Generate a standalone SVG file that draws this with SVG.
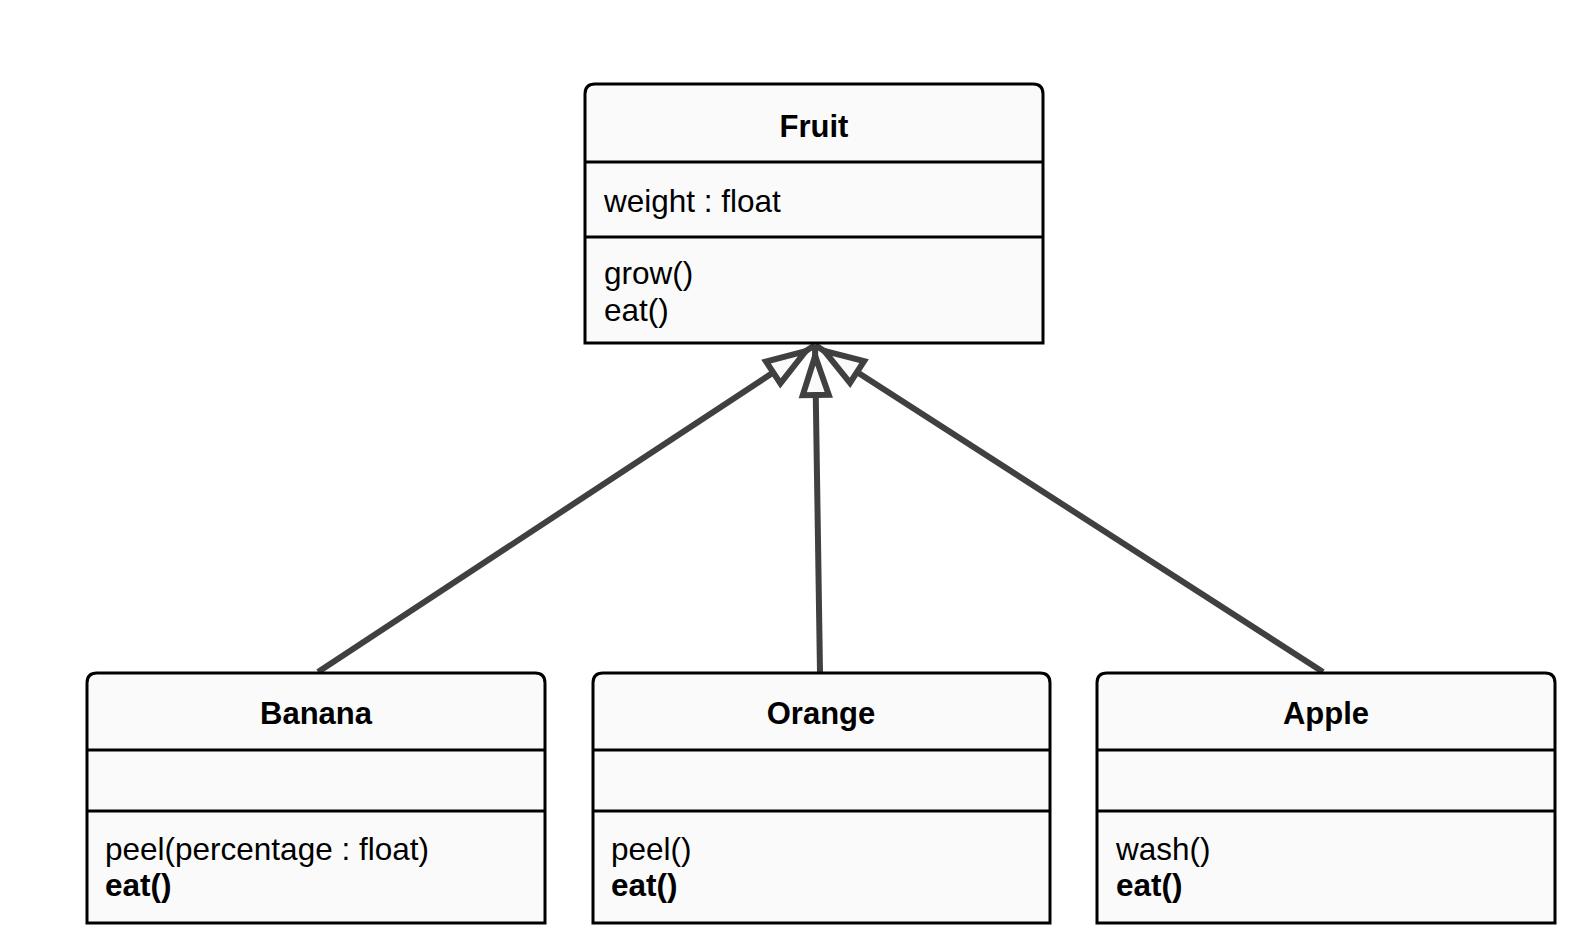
<svg xmlns="http://www.w3.org/2000/svg" width="1592" height="940" viewBox="0 0 1592 940">
<style>
.box{fill:#fafafa;stroke:#000;stroke-width:3}
.div{stroke:#000;stroke-width:3}
.t{font-family:"Liberation Sans",Arial,sans-serif;font-size:31.5px;fill:#000}
.b{font-weight:bold}
.title{font-family:"Liberation Sans",Arial,sans-serif;font-size:31px;font-weight:bold;text-anchor:middle;fill:#000}
.edge{stroke:#404040;stroke-width:6;fill:none}
</style>
<defs>
<marker id="gen" markerUnits="userSpaceOnUse" markerWidth="80" markerHeight="60" viewBox="-60 -30 80 60" refX="0" refY="0" orient="auto" overflow="visible">
<path d="M-11,0 L-50,-13 L-50,13 Z" fill="#fafafa" stroke="#404040" stroke-width="6" stroke-linejoin="miter"/>
</marker>
</defs>
<rect width="1592" height="940" fill="#ffffff"/>
<g id="connectors">
<line class="edge" x1="318" y1="672" x2="815" y2="345" marker-end="url(#gen)"/>
<line class="edge" x1="820" y1="672" x2="815" y2="345" marker-end="url(#gen)"/>
<line class="edge" x1="1323" y1="672" x2="815" y2="345" marker-end="url(#gen)"/>
</g>
<g id="fruit">
<path class="box" d="M585,343 L585,94 Q585,84 595,84 L1033,84 Q1043,84 1043,94 L1043,343 Z"/>
<line class="div" x1="585" y1="162" x2="1043" y2="162"/>
<line class="div" x1="585" y1="237" x2="1043" y2="237"/>
<text class="title" x="814" y="137">Fruit</text>
<text class="t" x="604" y="212">weight : float</text>
<text class="t" x="604" y="284">grow()</text>
<text class="t" x="604" y="321">eat()</text>
</g>
<g id="banana">
<path class="box" d="M87,923 L87,683 Q87,673 97,673 L535,673 Q545,673 545,683 L545,923 Z"/>
<line class="div" x1="87" y1="750" x2="545" y2="750"/>
<line class="div" x1="87" y1="811" x2="545" y2="811"/>
<text class="title" x="316" y="724">Banana</text>
<text class="t" x="105" y="860">peel(percentage : float)</text>
<text class="t b" x="105" y="896">eat()</text>
</g>
<g id="orange">
<path class="box" d="M593,923 L593,683 Q593,673 603,673 L1040,673 Q1050,673 1050,683 L1050,923 Z"/>
<line class="div" x1="593" y1="750" x2="1050" y2="750"/>
<line class="div" x1="593" y1="811" x2="1050" y2="811"/>
<text class="title" x="821" y="724">Orange</text>
<text class="t" x="611" y="860">peel()</text>
<text class="t b" x="611" y="896">eat()</text>
</g>
<g id="apple">
<path class="box" d="M1097,923 L1097,683 Q1097,673 1107,673 L1545,673 Q1555,673 1555,683 L1555,923 Z"/>
<line class="div" x1="1097" y1="750" x2="1555" y2="750"/>
<line class="div" x1="1097" y1="811" x2="1555" y2="811"/>
<text class="title" x="1326" y="724">Apple</text>
<text class="t" x="1116" y="860">wash()</text>
<text class="t b" x="1116" y="896">eat()</text>
</g>
</svg>
